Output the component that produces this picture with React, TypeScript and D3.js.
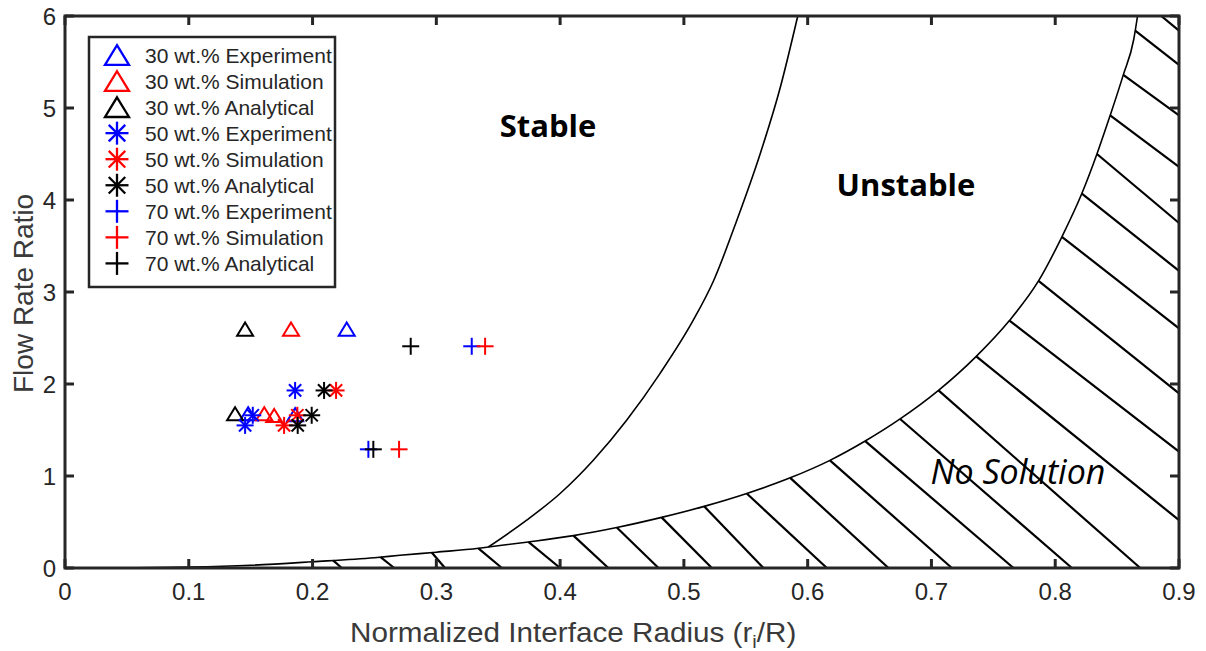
import React from 'react';
import * as d3 from 'd3';

// ---------- axis ticks ----------
const xTickValues = [0, 0.1, 0.2, 0.3, 0.4, 0.5, 0.6, 0.7, 0.8, 0.9];
const xTickLabels = ['0', '0.1', '0.2', '0.3', '0.4', '0.5', '0.6', '0.7', '0.8', '0.9'];
const yTickValues = [0, 1, 2, 3, 4, 5, 6];
const yTickLabels = ['0', '1', '2', '3', '4', '5', '6'];

// ---------- data points [r_i/R, flow rate ratio] ----------
const exp30 = [[0.2276, 2.59], [0.148, 1.67], [0.1859, 1.66]];
const sim30 = [[0.1826, 2.59], [0.161, 1.67], [0.169, 1.65]];
const ana30 = [[0.1455, 2.59], [0.1374, 1.67]];
const exp50 = [[0.1859, 1.93], [0.1517, 1.66], [0.1455, 1.55]];
const sim50 = [[0.219, 1.93], [0.1877, 1.66], [0.177, 1.55]];
const ana50 = [[0.2093, 1.93], [0.1993, 1.66], [0.188, 1.55]];
const exp70 = [[0.3286, 2.41], [0.2451, 1.29]];
const sim70 = [[0.3394, 2.41], [0.2699, 1.29]];
const ana70 = [[0.2793, 2.41], [0.2491, 1.29]];

const seriesLabels = [
  '30 wt.% Experiment', '30 wt.% Simulation', '30 wt.% Analytical',
  '50 wt.% Experiment', '50 wt.% Simulation', '50 wt.% Analytical',
  '70 wt.% Experiment', '70 wt.% Simulation', '70 wt.% Analytical',
];
const seriesData = [exp30, sim30, ana30, exp50, sim50, ana50, exp70, sim70, ana70];
const seriesMarkers = ['tri', 'tri', 'tri', 'ast', 'ast', 'ast', 'plus', 'plus', 'plus'];
const seriesColors = ['#0000ff', '#ff0000', '#000000', '#0000ff', '#ff0000', '#000000', '#0000ff', '#ff0000', '#000000'];

// ---------- boundary curves ----------
const lowerX = [0, 0.05, 0.1, 0.15, 0.2, 0.25, 0.2707, 0.3, 0.334, 0.342, 0.3744, 0.4108, 0.4458, 0.482, 0.5164, 0.5508, 0.5859, 0.618, 0.6465, 0.6747, 0.7057, 0.7362, 0.763, 0.7865, 0.8054, 0.8215, 0.8337, 0.8444, 0.855, 0.8635, 0.8665];
const lowerY = [0, 0.002, 0.01, 0.03, 0.068, 0.112, 0.138, 0.172, 0.214, 0.228, 0.283, 0.352, 0.44, 0.55, 0.67, 0.81, 0.98, 1.17, 1.38, 1.62, 1.93, 2.3, 2.69, 3.12, 3.6, 4.07, 4.5, 4.92, 5.36, 5.75, 6.0];
const upperX = [0.342, 0.373, 0.4, 0.427, 0.4539, 0.4808, 0.5077, 0.5239, 0.5428, 0.5616, 0.5778, 0.592];
const upperY = [0.228, 0.52, 0.81, 1.174, 1.609, 2.116, 2.696, 3.12, 3.78, 4.5, 5.22, 6.0];

// ---------- hatch lines in the "No Solution" region ----------
const hatchStartX = [0.2166, 0.255, 0.2963, 0.334, 0.3744, 0.4108, 0.4458, 0.482, 0.5164, 0.5508, 0.5859, 0.618, 0.6465, 0.6747, 0.7057, 0.7362, 0.763, 0.7865, 0.8054, 0.8215, 0.8337, 0.8444, 0.855, 0.8646, 0.8857];
const hatchEndX = [0.2236, 0.266, 0.307, 0.353, 0.4, 0.439, 0.4795, 0.5226, 0.5643, 0.6155, 0.6653, 0.7165, 0.7663, 0.8135, 0.8687, 0.9, 0.9, 0.9, 0.9, 0.9, 0.9, 0.9, 0.9, 0.9, 0.9];
const hatchEndY = [0, 0, 0, 0, 0, 0, 0, 0, 0, 0, 0, 0, 0, 0, 0, 0.52, 1.264, 1.899, 2.605, 3.23, 3.75, 4.36, 4.92, 5.47, 5.84];

const regionLabels = ['Stable', 'Unstable', 'No Solution'];

const W = 1206;
const H = 651;
const x = d3.scaleLinear().domain([0, 0.9]).range([65, 1179]);
const y = d3.scaleLinear().domain([0, 6]).range([568, 16]);
const lowerAt = d3.scaleLinear().domain(lowerX).range(lowerY).clamp(true);

const AX = '#262626';

function Marker({ type, color, cx, cy, s, sw }: { type: string; color: string; cx: number; cy: number; s: number; sw: number }) {
  if (type === 'tri') {
    const hw = s * 0.5;
    const d = `M${cx},${cy - s * 0.45}L${cx + hw},${cy + s * 0.37}L${cx - hw},${cy + s * 0.37}Z`;
    return <path d={d} fill="none" stroke={color} strokeWidth={sw} strokeLinejoin="miter" />;
  }
  const r = s / 2;
  const segs: [number, number, number, number][] = [[-r, 0, r, 0], [0, -r, 0, r]];
  if (type === 'ast') {
    const q = r * 0.72;
    segs.push([-q, -q, q, q], [-q, q, q, -q]);
  }
  return (
    <g stroke={color} strokeWidth={sw}>
      {segs.map((g, i) => (
        <line key={i} x1={cx + g[0]} y1={cy + g[1]} x2={cx + g[2]} y2={cy + g[3]} />
      ))}
    </g>
  );
}

export default function App() {
  const pathGen = d3
    .line<[number, number]>()
    .x((d) => x(d[0]))
    .y((d) => y(d[1]))
    .curve(d3.curveMonotoneX);
  const lowerPath = pathGen(lowerX.map((v, i) => [v, lowerY[i]] as [number, number]));
  const upperPath = pathGen(upperX.map((v, i) => [v, upperY[i]] as [number, number]));

  const legendX = 89;
  const legendY = 37;
  const legendW = 246;
  const legendH = 250;
  const rowStep = 26.05;
  const row0 = 55;

  return (
    <svg width={W} height={H} style={{ position: 'absolute', left: 0, top: 0, background: '#fff' }} fontFamily="'Liberation Sans', Arial, sans-serif">
      <rect x={0} y={0} width={W} height={H} fill="#fff" />

      {/* hatch */}
      <g stroke="#000" strokeWidth={2.2} strokeLinecap="butt">
        {hatchStartX.map((sx, i) => (
          <line key={i} x1={x(sx)} y1={y(Math.min(6, lowerAt(sx)))} x2={x(hatchEndX[i])} y2={y(hatchEndY[i])} />
        ))}
      </g>

      {/* boundary curves */}
      <path d={lowerPath || ''} fill="none" stroke="#000" strokeWidth={1.6} />
      <path d={upperPath || ''} fill="none" stroke="#000" strokeWidth={1.6} />

      {/* data markers */}
      {seriesData.map((data, si) =>
        data.map((p, pi) => (
          <Marker key={`${si}-${pi}`} type={seriesMarkers[si]} color={seriesColors[si]} cx={x(p[0])} cy={y(p[1])} s={seriesMarkers[si] === 'tri' ? 16 : 17} sw={2} />
        ))
      )}

      {/* axes frame */}
      <rect x={x(0)} y={y(6)} width={x(0.9) - x(0)} height={y(0) - y(6)} fill="none" stroke={AX} strokeWidth={3} />
      <g stroke={AX} strokeWidth={3}>
        {xTickValues.map((v, i) => (
          <g key={'xt' + i}>
            <line x1={x(v)} x2={x(v)} y1={y(0)} y2={y(0) - 9} />
            <line x1={x(v)} x2={x(v)} y1={y(6)} y2={y(6) + 9} />
          </g>
        ))}
        {yTickValues.map((v, i) => (
          <g key={'yt' + i}>
            <line x1={x(0)} x2={x(0) + 9} y1={y(v)} y2={y(v)} />
            <line x1={x(0.9)} x2={x(0.9) - 9} y1={y(v)} y2={y(v)} />
          </g>
        ))}
      </g>
      <g fill={AX} fontSize={24}>
        {xTickValues.map((v, i) => (
          <text key={'xl' + i} x={x(v)} y={600} textAnchor="middle">
            {xTickLabels[i]}
          </text>
        ))}
        {yTickValues.map((v, i) => (
          <text key={'yl' + i} x={56} y={y(v) + 8.5} textAnchor="end">
            {yTickLabels[i]}
          </text>
        ))}
      </g>

      {/* axis labels */}
      <text transform="translate(350,642) scale(1.06,1)" fontSize={28} fill="#3a3a3a">
        Normalized Interface Radius (r
        <tspan dy={6} fontSize={19}>i</tspan>
        <tspan dy={-6}>/R)</tspan>
      </text>
      <text transform="translate(33,393) rotate(-90)" fontSize={28} fill="#3a3a3a">
        Flow Rate Ratio
      </text>

      {/* region labels */}
      <text x={548} y={137} textAnchor="middle" fontFamily="'Open Sans', sans-serif" fontWeight={700} fontSize={31}>
        {regionLabels[0]}
      </text>
      <text x={906} y={196} textAnchor="middle" fontFamily="'Open Sans', sans-serif" fontWeight={700} fontSize={31}>
        {regionLabels[1]}
      </text>
      <text x={1018} y={484} textAnchor="middle" fontFamily="'Open Sans', sans-serif" fontStyle="italic" fontSize={34}>
        {regionLabels[2]}
      </text>

      {/* legend */}
      <rect x={legendX} y={legendY} width={legendW} height={legendH} fill="#fff" stroke={AX} strokeWidth={2.5} />
      {seriesLabels.map((lab, i) => {
        const cy = row0 + i * rowStep;
        return (
          <g key={'lg' + i}>
            <Marker type={seriesMarkers[i]} color={seriesColors[i]} cx={117} cy={cy + (seriesMarkers[i] === 'tri' ? 1 : 0)} s={seriesMarkers[i] === 'tri' ? 24 : 23} sw={2.3} />
            <text x={145} y={cy + 7.5} fontSize={21} fill={AX}>
              {lab}
            </text>
          </g>
        );
      })}
    </svg>
  );
}
